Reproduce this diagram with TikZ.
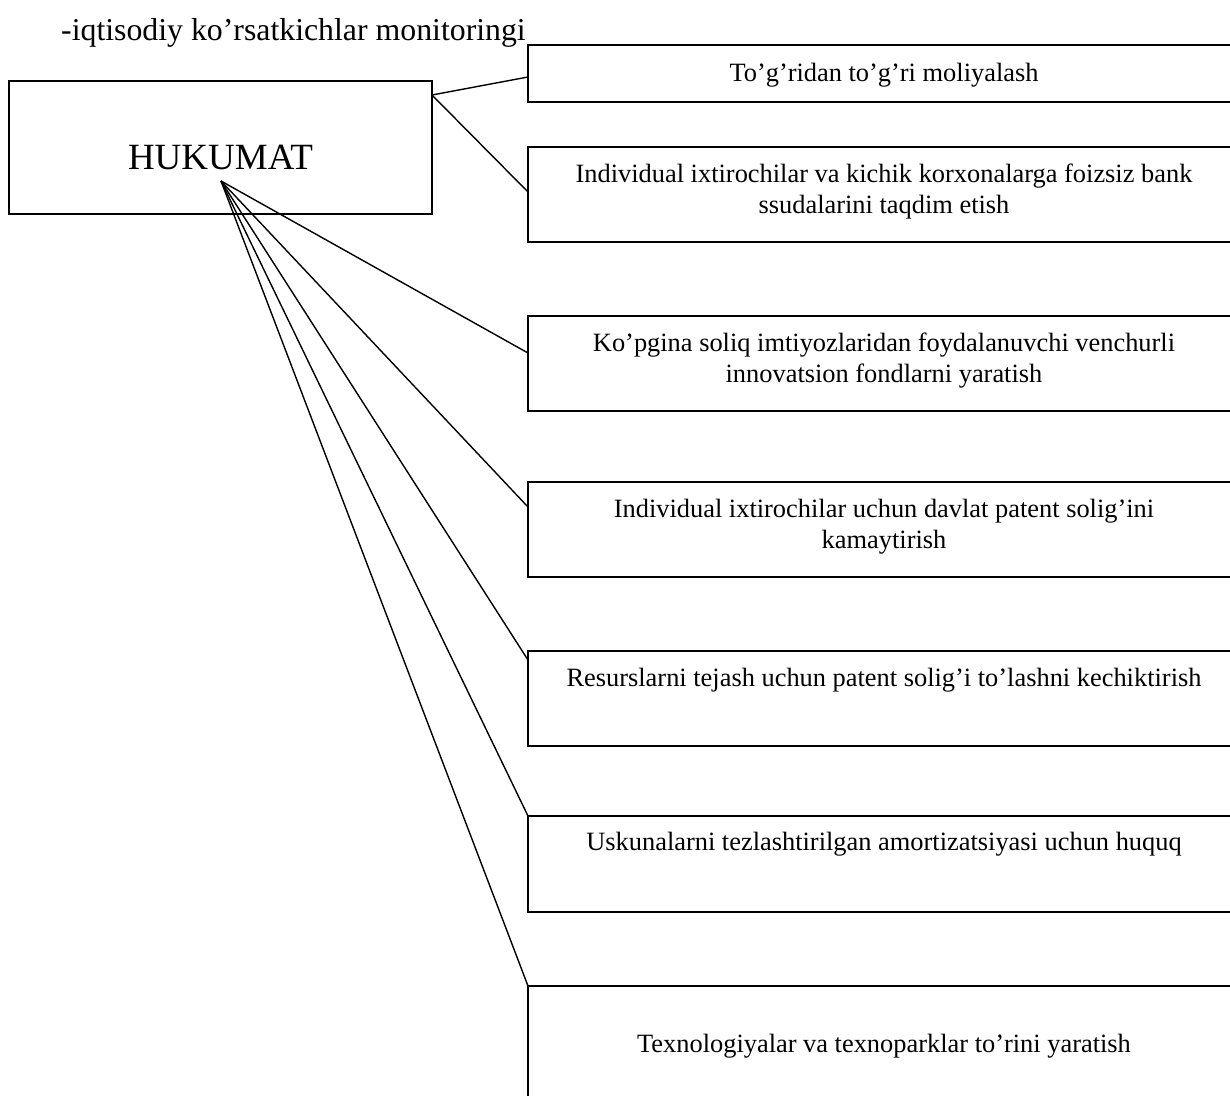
\documentclass[tikz,border=0pt]{standalone}
\usepackage{fontspec}
\setmainfont{Liberation Serif}
\usetikzlibrary{calc}
\begin{document}
\begin{tikzpicture}[x=1pt,y=-1pt,
  boxstyle/.style={draw,line width=1.8pt,inner sep=0pt,outer sep=0pt,anchor=north west,minimum width=712pt},
  boxtext/.style={font=\fontsize{26.4}{31.5}\selectfont,align=center,anchor=base,inner sep=0pt},
  conn/.style={line width=1.4pt}]
\useasboundingbox (0,0) rectangle (1230,1095);
% title
\node[font=\fontsize{31.8}{36}\selectfont,anchor=base west,inner sep=0pt] (title) at (61,40) {-iqtisodiy ko’rsatkichlar monitoringi};
% government box
\node[draw,line width=1.8pt,inner sep=0pt,outer sep=0pt,anchor=north west,minimum width=423pt,minimum height=133pt] (huk) at (9,81) {};
\node[font=\fontsize{37}{40}\selectfont,anchor=base,inner sep=0pt] (hukt) at (220.5,169) {HUKUMAT};
\coordinate (hr) at ([yshift=-14pt]huk.north east);
\coordinate (hub) at (221,181);
% right boxes
\node[boxstyle,minimum height=57pt] (b1) at (528,45) {};
\node[boxstyle,minimum height=95pt] (b2) at (528,147) {};
\node[boxstyle,minimum height=95pt] (b3) at (528,316) {};
\node[boxstyle,minimum height=95pt] (b4) at (528,482) {};
\node[boxstyle,minimum height=95pt] (b5) at (528,651) {};
\node[boxstyle,minimum height=96pt] (b6) at (528,816) {};
\node[boxstyle,minimum height=140pt] (b7) at (528,986) {};
% texts (multi-line nodes: base = baseline of last line)
\node[boxtext] (t1) at (884,81) {To’g’ridan to’g’ri moliyalash};
\node[boxtext] (t2) at (884,213.5) {Individual ixtirochilar va kichik korxonalarga foizsiz bank\\ssudalarini taqdim etish};
\node[boxtext] (t3) at (884,382.5) {Ko’pgina soliq imtiyozlaridan foydalanuvchi venchurli\\innovatsion fondlarni yaratish};
\node[boxtext] (t4) at (884,548.5) {Individual ixtirochilar uchun davlat patent solig’ini\\kamaytirish};
\node[boxtext] (t5) at (884,686) {Resurslarni tejash uchun patent solig’i to’lashni kechiktirish};
\node[boxtext] (t6) at (884,850) {Uskunalarni tezlashtirilgan amortizatsiyasi uchun huquq};
\node[boxtext] (t7) at (884,1052) {Texnologiyalar va texnoparklar to’rini yaratish};
% connectors
\draw[conn] (hr) -- ([yshift=-32pt]b1.north west);
\draw[conn] (hr) -- ([yshift=-45pt]b2.north west);
\draw[conn] (hub) -- ([yshift=-37pt]b3.north west);
\draw[conn] (hub) -- ([yshift=-25pt]b4.north west);
\draw[conn] (hub) -- ([yshift=-9pt]b5.north west);
\draw[conn] (hub) -- (b6.north west);
\draw[conn] (hub) -- (b7.north west);
\end{tikzpicture}
\end{document}
